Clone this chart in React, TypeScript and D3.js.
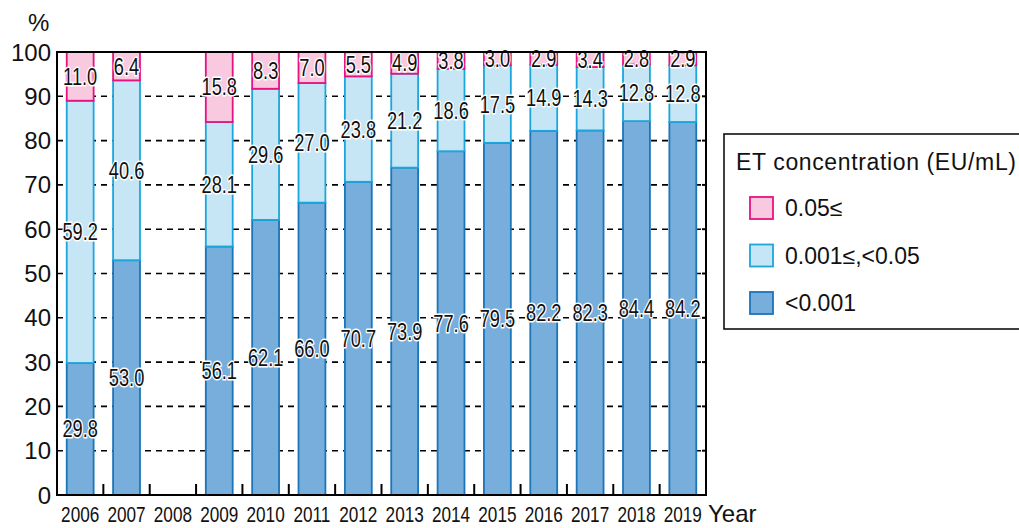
import React from "react";
import * as d3 from "d3";

const years = ["2006","2007","2008","2009","2010","2011","2012","2013","2014","2015","2016","2017","2018","2019"];
const low: (number|null)[] = [29.8,53.0,null,56.1,62.1,66.0,70.7,73.9,77.6,79.5,82.2,82.3,84.4,84.2];
const mid: (number|null)[] = [59.2,40.6,null,28.1,29.6,27.0,23.8,21.2,18.6,17.5,14.9,14.3,12.8,12.8];
const high: (number|null)[] = [11.0,6.4,null,15.8,8.3,7.0,5.5,4.9,3.8,3.0,2.9,3.4,2.8,2.9];
const yTicks = [0,10,20,30,40,50,60,70,80,90,100];
const seriesKeys = ["low","mid","high"];
const legendLabels = ["0.05≤","0.001≤,<0.05","<0.001"];

const W = 1019, H = 528;
const M = { left: 57, right: 706, top: 52, bottom: 495 };
const fills: Record<string,string> = { low: "#78AEDC", mid: "#C6E5F5", high: "#F9C9E0" };
const strokes: Record<string,string> = { low: "#1B75B9", mid: "#1BA6DD", high: "#E5137F" };
const FONT = "'Liberation Sans', Arial, Helvetica, sans-serif";

export default function App() {
  const x = d3.scaleBand<string>().domain(years).range([M.left, M.right]).paddingInner(0.42).paddingOuter(0.21);
  const y = d3.scaleLinear().domain([0, 100]).range([M.bottom, M.top]);
  const rows = years.map((yr, i) => ({ year: yr, low: low[i], mid: mid[i], high: high[i] }));
  const valid = rows.filter(r => r.low != null);
  const stack = d3.stack<any>().keys(seriesKeys).value((d: any, k: string) => d[k] ?? 0);
  const layers = stack(valid as any);
  const step = (M.right - M.left) / years.length;

  const narrow = (tx: number, ty: number, s = 0.76) => `translate(${tx},${ty}) scale(${s},1)`;

  return (
    <svg width={W} height={H} style={{ position: "absolute", left: 0, top: 0 }} fontFamily={FONT}>
      <rect width={W} height={H} fill="#fff" />
      {/* gridlines */}
      {yTicks.filter(t => t > 0 && t < 100).map(t => (
        <line key={t} x1={M.left} x2={M.right} y1={y(t)} y2={y(t)} stroke="#000" strokeWidth={1.6} strokeDasharray="6,5" />
      ))}
      {/* bars */}
      {layers.map(layer => (
        <g key={layer.key}>
          {layer.map((d: any) => (
            <rect key={d.data.year} x={x(d.data.year)} width={x.bandwidth()} y={y(d[1])} height={y(d[0]) - y(d[1])}
              fill={fills[layer.key]} stroke={strokes[layer.key]} strokeWidth={1.8} />
          ))}
        </g>
      ))}
      {/* value labels */}
      {layers.map(layer => (
        <g key={"l" + layer.key}>
          {layer.map((d: any) => {
            const cx = (x(d.data.year) as number) + x.bandwidth() / 2;
            const cy = y((d[0] + d[1]) / 2);
            return (
              <text key={d.data.year} transform={narrow(cx, cy + 8.5)} textAnchor="middle" fontSize={24}
                fill="#111" stroke="#fff" strokeWidth={3} paintOrder="stroke" strokeLinejoin="round">
                {d.data[layer.key].toFixed(1)}
              </text>
            );
          })}
        </g>
      ))}
      {/* frame */}
      <rect x={M.left} y={M.top} width={M.right - M.left} height={M.bottom - M.top} fill="none" stroke="#000" strokeWidth={2} />
      {/* bottom ticks */}
      {years.slice(1).map((yr, i) => {
        const bx = M.left + step * (i + 1);
        return <line key={yr} x1={bx} x2={bx} y1={M.bottom} y2={M.bottom - 11} stroke="#000" strokeWidth={2} />;
      })}
      {/* right ticks */}
      {yTicks.filter(t => t > 0 && t < 100).map(t => (
        <line key={"rt" + t} x1={M.right - 4} x2={M.right} y1={y(t)} y2={y(t)} stroke="#000" strokeWidth={2} />
      ))}
      {/* y tick labels */}
      {yTicks.map(t => (
        <text key={"yt" + t} x={51} y={y(t) + 8.5} textAnchor="end" fontSize={24} fill="#111">{t}</text>
      ))}
      <text x={28} y={31} fontSize={24} fill="#111">%</text>
      {/* x labels */}
      {years.map(yr => (
        <text key={"xl" + yr} transform={narrow((x(yr) as number) + x.bandwidth() / 2, 522, 0.78)} textAnchor="middle" fontSize={22} fill="#111">{yr}</text>
      ))}
      <text x={708} y={522} fontSize={24} fill="#111">Year</text>
      {/* legend */}
      <rect x={724} y={134} width={300} height={195} fill="#fff" stroke="#000" strokeWidth={1.5} />
      <text x={736} y={170} fontSize={23} fill="#111" textLength={280} lengthAdjust="spacing">ET concentration (EU/mL)</text>
      {["high","mid","low"].map((k, i) => (
        <g key={"lg" + k}>
          <rect x={750} y={197 + i * 47.5} width={23} height={22} fill={fills[k]} stroke={strokes[k]} strokeWidth={1.8} />
          <text x={785} y={216 + i * 47.5} fontSize={23} fill="#111">{legendLabels[i]}</text>
        </g>
      ))}
    </svg>
  );
}
